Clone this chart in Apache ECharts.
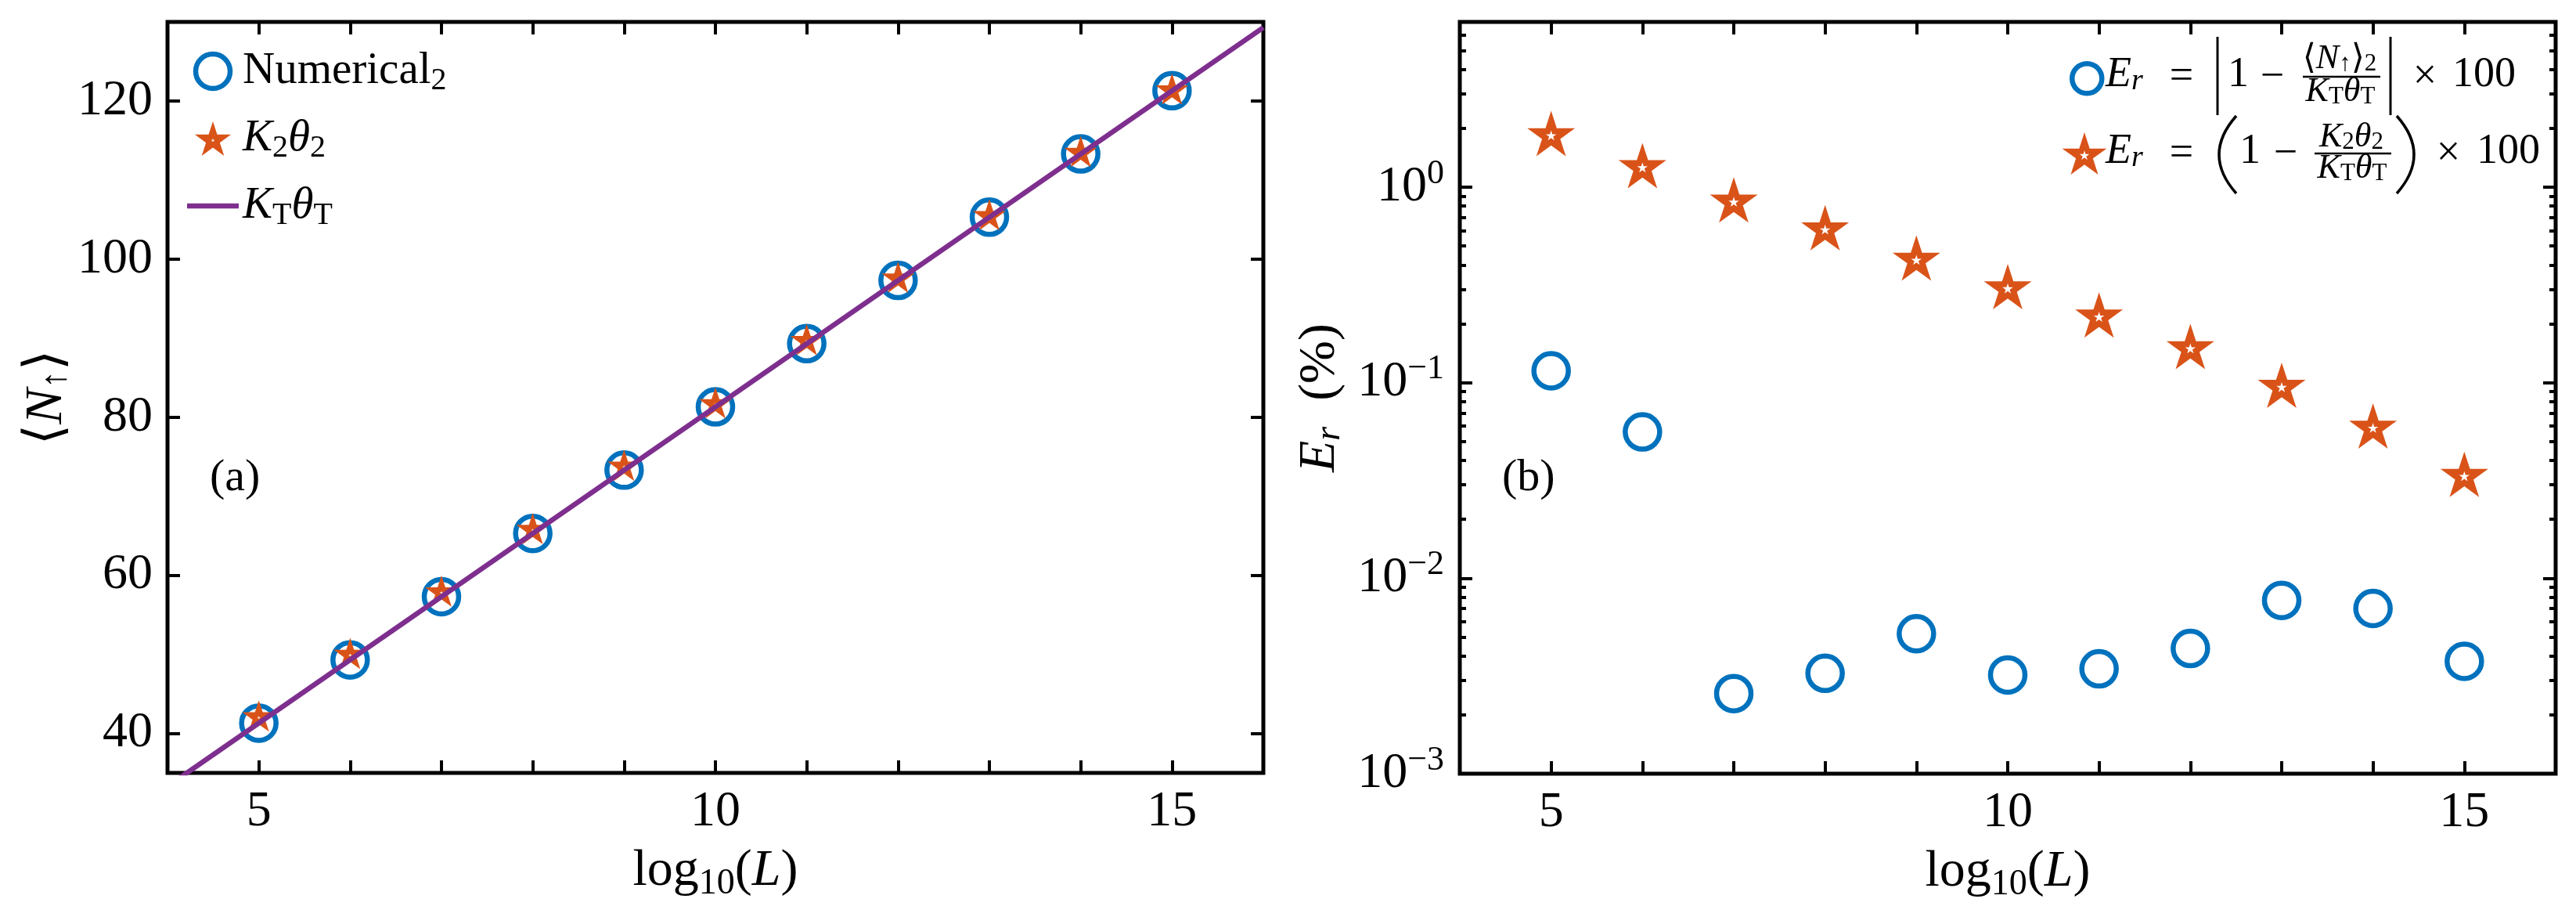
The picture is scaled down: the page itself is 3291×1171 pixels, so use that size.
<!DOCTYPE html>
<html>
<head>
<meta charset="utf-8">
<title>N up and relative error vs log10(L)</title>
<script src="https://cdn.jsdelivr.net/npm/echarts@6/dist/echarts.min.js"></script>
<style>
html, body { margin: 0; padding: 0; background: #fff; }
#chart { width: 3291px; height: 1171px; }
</style>
</head>
<body>
<div id="chart"></div>
<script>
// ---- data ----
var logL = [5, 6, 7, 8, 9, 10, 11, 12, 13, 14, 15];
var numerical2 = [41.3, 49.3, 57.3, 65.3, 73.3, 81.3, 89.3, 97.3, 105.3, 113.3, 121.3];
var k2theta2 = [42.2, 50.1, 58.0, 65.9, 73.9, 81.8, 89.8, 97.7, 105.6, 113.6, 121.5];
var ktLineX = [4, 16];
var ktLineY = [33.3, 129.3];
var errNumerical = [0.115, 0.056, 0.00257, 0.00326, 0.0052, 0.0032, 0.00344, 0.00437, 0.0077, 0.0070, 0.00376];
var errK2 = [1.88, 1.29, 0.86, 0.62, 0.434, 0.31, 0.222, 0.153, 0.097, 0.060, 0.034];

// ---- tick labels ----
var yTicksA = [40, 60, 80, 100, 120];
var xLabelTicks = [5, 10, 15];
var decades = [0.001, 0.01, 0.1, 1];
var minorMantissa = [2, 3, 4, 5, 6, 7, 8, 9];

var SERIF = "'Liberation Serif', 'DejaVu Serif', 'DejaVu Sans', serif";
var BLUE = '#0072BD', ORANGE = '#D95319', PURPLE = '#7E2F8E';
var ERR_MAX = 7;

function pairs(xs, ys) {
    return xs.map(function (x, i) { return [x, ys[i]]; });
}

// five-pointed star, optional small hole (reverse winding) in the middle
function starPath(hole) {
    var pts = [];
    for (var k = 0; k < 10; k++) {
        var r = k % 2 ? 38.2 : 100;
        var a = (-90 + 36 * k) * Math.PI / 180;
        pts.push([r * Math.cos(a), r * Math.sin(a)]);
    }
    var fmt = function (s) {
        return function (p) { return (p[0] * s).toFixed(2) + ',' + (p[1] * s).toFixed(2); };
    };
    var d = 'M' + pts.map(fmt(1)).join('L') + 'Z';
    if (hole) {
        d += 'M' + pts.slice().reverse().map(fmt(hole)).join('L') + 'Z';
    }
    return 'path://' + d;
}

// log-axis tick positions expressed in log10 space (for the tick-only axes)
var minorLog = [];
decades.forEach(function (d) {
    minorMantissa.forEach(function (m) {
        if (m * d < ERR_MAX) minorLog.push(Math.log10(m * d));
    });
});
var majorLog = decades.map(function (d) { return Math.round(Math.log10(d)); });

function richSet(F, S, shift) {
    return {
        n: { fontSize: F, fontFamily: SERIF, lineHeight: F },
        i: { fontSize: F, fontFamily: SERIF, fontStyle: 'italic', lineHeight: F },
        s: { fontSize: S, fontFamily: SERIF, fontStyle: 'italic', lineHeight: 10, padding: [2 * shift, 0, 0, 0] },
        t: { fontSize: S, fontFamily: SERIF, lineHeight: 10, padding: [2 * shift, 0, 0, 0] },
        p: { fontSize: S, fontFamily: SERIF, lineHeight: 10, padding: [0, 0, 2 * shift, 0] }
    };
}

function tickAxis(opt) {
    var base = {
        type: 'value',
        axisLine: { show: false, onZero: false },
        axisLabel: { show: false },
        splitLine: { show: false },
        axisTick: { show: true, inside: true, length: 16, lineStyle: { color: '#000', width: 4 } }
    };
    for (var k in opt) base[k] = opt[k];
    return base;
}

function xAxisPair(grid) {
    return [
        tickAxis({
            gridIndex: grid, position: 'bottom', min: 4, max: 16, interval: 1,
            axisLabel: { show: true, margin: 18, customValues: xLabelTicks, color: '#000',
                         fontSize: 64, fontFamily: SERIF, lineHeight: 64 },
            name: '{n|log}{t|10}{n|(}{i|L}{n|)}',
            nameLocation: 'middle', nameGap: 90,
            nameTextStyle: { color: '#000', fontSize: 66, fontFamily: SERIF, lineHeight: 70,
                             rich: richSet(66, 46, 16) }
        }),
        tickAxis({ gridIndex: grid, position: 'top', min: 4, max: 16, interval: 1 })
    ];
}

var option = {
    backgroundColor: '#fff',
    animation: false,
    grid: [
        { left: 214, top: 28, width: 1400, height: 959, show: true, borderColor: '#000', borderWidth: 5, outerBoundsMode: 'none' },
        { left: 1865, top: 28, width: 1400, height: 960, show: true, borderColor: '#000', borderWidth: 5, outerBoundsMode: 'none' }
    ],
    xAxis: xAxisPair(0).concat(xAxisPair(1)),
    yAxis: [
        tickAxis({
            gridIndex: 0, position: 'left', min: 35, max: 130,
            axisTick: { show: true, inside: true, length: 16, customValues: yTicksA, lineStyle: { color: '#000', width: 4 } },
            axisLabel: { show: true, margin: 19, customValues: yTicksA, color: '#000',
                         fontSize: 64, fontFamily: SERIF, lineHeight: 64 },
            name: '⟨{i|N}{t|↑}⟩',
            nameLocation: 'middle', nameGap: 119,
            nameTextStyle: { color: '#000', fontSize: 68, fontFamily: SERIF, lineHeight: 70,
                             rich: richSet(68, 46, 12) }
        }),
        tickAxis({
            gridIndex: 0, position: 'right', min: 35, max: 130,
            axisTick: { show: true, inside: true, length: 16, customValues: yTicksA, lineStyle: { color: '#000', width: 4 } }
        }),
        {
            type: 'log', logBase: 10, gridIndex: 1, position: 'left', min: 0.001, max: ERR_MAX,
            axisLine: { show: false, onZero: false },
            splitLine: { show: false },
            axisTick: { show: true, inside: true, length: 16, lineStyle: { color: '#000', width: 4 } },
            axisLabel: {
                show: true, margin: 20, color: '#000', fontSize: 64, fontFamily: SERIF, lineHeight: 64,
                rich: richSet(64, 44, 17),
                formatter: function (v) {
                    var e = Math.log10(v);
                    if (Math.abs(e - Math.round(e)) > 1e-6) return '';
                    e = Math.round(e);
                    return '{n|10}{p|' + (e < 0 ? '−' + (-e) : e) + '}';
                }
            },
            name: '{i|E}{s|r}  (%)',
            nameLocation: 'middle', nameGap: 143,
            nameTextStyle: { color: '#000', fontSize: 66, fontFamily: SERIF, lineHeight: 70,
                             rich: richSet(66, 46, 12) }
        },
        tickAxis({
            gridIndex: 1, position: 'left', min: -3, max: Math.log10(ERR_MAX),
            axisTick: { show: true, inside: true, length: 8, customValues: minorLog, lineStyle: { color: '#000', width: 4 } }
        }),
        tickAxis({
            gridIndex: 1, position: 'right', min: -3, max: Math.log10(ERR_MAX),
            axisTick: { show: true, inside: true, length: 8, customValues: minorLog, lineStyle: { color: '#000', width: 4 } }
        }),
        tickAxis({
            gridIndex: 1, position: 'right', min: -3, max: Math.log10(ERR_MAX),
            axisTick: { show: true, inside: true, length: 16, customValues: majorLog, lineStyle: { color: '#000', width: 4 } }
        })
    ],
    legend: [
        {
            left: 239, top: 59, orient: 'vertical', padding: 0,
            itemWidth: 66, itemHeight: 44, itemGap: 22, selectedMode: false,
            data: [
                { name: 'Numerical2', itemStyle: { borderWidth: 6.5 } },
                { name: 'K2θ2' },
                { name: 'KTθT', icon: 'path://M0,0H66V6.5H0Z' }
            ],
            formatter: function (name) {
                return {
                    'Numerical2': 'Numerical{t|2}',
                    'K2θ2': '{i|K}{t|2}{i|θ}{t|2}',
                    'KTθT': '{i|K}{t|T}{i|θ}{t|T}'
                }[name];
            },
            textStyle: { color: '#000', fontSize: 57, fontFamily: SERIF, lineHeight: 44,
                         rich: richSet(57, 40, 12) }
        },
        {
            left: 2644, top: 78, padding: 0, itemWidth: 38, itemHeight: 38, selectedMode: false,
            data: [{ name: 'ErNum', itemStyle: { borderWidth: 6.5 } }],
            formatter: function () { return ''; }
        },
        {
            left: 2634, top: 169, padding: 0, itemWidth: 58, itemHeight: 54, selectedMode: false,
            data: ['ErK'],
            formatter: function () { return ''; }
        }
    ],
    series: [
        {
            name: 'Numerical2', type: 'scatter', xAxisIndex: 0, yAxisIndex: 0,
            data: pairs(logL, numerical2), symbol: 'circle', symbolSize: 44, silent: true,
            itemStyle: { color: '#fff', borderColor: BLUE, borderWidth: 6.5, opacity: 1 }
        },
        {
            name: 'K2θ2', type: 'scatter', xAxisIndex: 0, yAxisIndex: 0,
            data: pairs(logL, k2theta2), symbol: starPath(0.1), symbolSize: [42, 40], silent: true,
            itemStyle: { color: ORANGE, opacity: 1 }
        },
        {
            name: 'KTθT', type: 'line', xAxisIndex: 0, yAxisIndex: 0,
            data: pairs(ktLineX, ktLineY), symbol: 'none', silent: true, clip: true,
            lineStyle: { color: PURPLE, width: 6.5 }, itemStyle: { color: PURPLE }
        },
        {
            name: 'ErNum', type: 'scatter', xAxisIndex: 2, yAxisIndex: 2,
            data: pairs(logL, errNumerical), symbol: 'circle', symbolSize: 44, silent: true,
            itemStyle: { color: '#fff', borderColor: BLUE, borderWidth: 6.5, opacity: 1 }
        },
        {
            name: 'ErK', type: 'scatter', xAxisIndex: 2, yAxisIndex: 2,
            data: pairs(logL, errK2), symbol: starPath(0.22), symbolSize: [61, 58], silent: true,
            itemStyle: { color: ORANGE, opacity: 1 }
        }
    ]
};

// ---- panel tags and the formula legend of panel (b) ----
function label(text, x, baseline, size, align, rich, dy) {
    return {
        type: 'text', x: x, y: baseline - 0.305 * size + (dy || 0), silent: true, z: 100,
        style: {
            text: text, fontSize: size, fontFamily: SERIF, fill: '#000',
            align: align, textAlign: align, verticalAlign: 'middle', textVerticalAlign: 'middle',
            rich: rich || {}
        }
    };
}
function rule(x1, y1, x2, y2, w) {
    return { type: 'line', silent: true, z: 100, shape: { x1: x1, y1: y1, x2: x2, y2: y2 },
             style: { stroke: '#000', lineWidth: w } };
}
function paren(x, yTop, yBot, bulge) {
    return { type: 'bezierCurve', silent: true, z: 100,
             shape: { x1: x, y1: yTop, x2: x, y2: yBot, cpx1: x + bulge, cpy1: (yTop + yBot) / 2 },
             style: { stroke: '#000', lineWidth: 3.5, fill: 'none' } };
}

var big = richSet(54, 38, 8);
var small = richSet(44, 31, 6);
var b1 = 112, b2 = 210;

option.graphic = [
    label('(a)', 268, 628, 58, 'left'),
    label('(b)', 1919, 628, 58, 'left'),

    // row 1
    label('{i|E}{s|r}', 2690, b1, 54, 'left', big),
    label('=', 2787, b1, 54, 'center', big, 3),
    rule(2833, 47, 2833, 147, 3),
    label('1', 2846, b1, 54, 'left', big),
    label('−', 2903, b1, 54, 'center', big, 3),
    label('⟨{i|N}{t|↑}⟩{t|2}', 2989, 89, 44, 'center', small),
    rule(2942, 98, 3041, 98, 2.5),
    label('{i|K}{t|T}{i|θ}{t|T}', 2990, 131, 44, 'center', small),
    rule(3054, 47, 3054, 147, 3),
    label('×', 3098, b1, 54, 'center', big, 3),
    label('100', 3133, b1, 54, 'left', big),

    // row 2
    label('{i|E}{s|r}', 2690, b2, 54, 'left', big),
    label('=', 2787, b2, 54, 'center', big, 3),
    paren(2857, 148, 247, -44),
    label('1', 2861, b2, 54, 'left', big),
    label('−', 2920, b2, 54, 'center', big, 3),
    label('{i|K}{t|2}{i|θ}{t|2}', 3004, 189, 44, 'center', small),
    rule(2957, 196, 3055, 196, 2.5),
    label('{i|K}{t|T}{i|θ}{t|T}', 3005, 229, 44, 'center', small),
    paren(3062, 148, 247, 44),
    label('×', 3128, b2, 54, 'center', big, 3),
    label('100', 3164, b2, 54, 'left', big)
];

var myChart = echarts.init(document.getElementById('chart'));
myChart.setOption(option);
</script>
</body>
</html>
